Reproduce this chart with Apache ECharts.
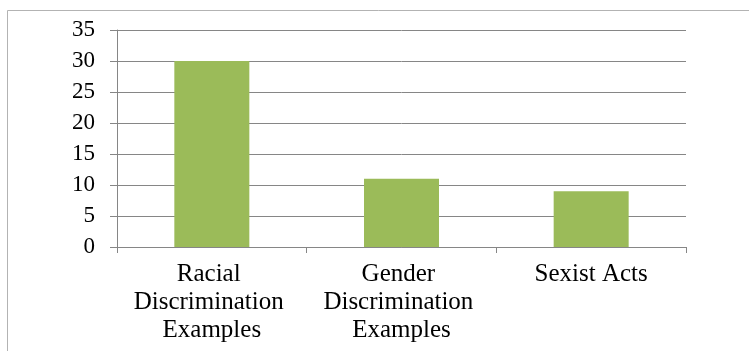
<!DOCTYPE html>
<html>
<head>
<meta charset="utf-8">
<script src="https://cdn.jsdelivr.net/npm/echarts@6/dist/echarts.min.js"></script>
<style>
  html, body { margin: 0; padding: 0; background: #fff; }
  #chart { width: 749px; height: 351px; }
</style>
</head>
<body>
<div id="chart"></div>
<script>
// Categories and counts for the bar chart
const categories = ['Racial Discrimination Examples', 'Gender Discrimination Examples', 'Sexist Acts'];
const counts = [30, 11, 9];

const chart = echarts.init(document.getElementById('chart'));
const font = '"Liberation Serif", "Times New Roman", serif';

chart.setOption({
  animation: false,
  graphic: [{
    type: 'rect',
    shape: { x: 7.5, y: 10.5, width: 800, height: 400 },
    style: { fill: 'none', stroke: '#b3b3b3', lineWidth: 1 },
    silent: true
  }],
  grid: { left: 117, right: 63, top: 30, bottom: 104 },
  xAxis: {
    type: 'category',
    data: categories,
    axisLine: { lineStyle: { color: '#868686', width: 1 } },
    axisTick: { show: true, length: 6, lineStyle: { color: '#868686' } },
    axisLabel: {
      color: '#000', fontFamily: font, fontSize: 25, lineHeight: 28,
      margin: 13, width: 180, overflow: 'break', interval: 0
    }
  },
  yAxis: {
    type: 'value',
    min: 0, max: 35, interval: 5,
    axisLine: { show: true, lineStyle: { color: '#868686', width: 1 } },
    axisTick: { show: true, length: 7, lineStyle: { color: '#868686' } },
    axisLabel: { color: '#000', fontFamily: font, fontSize: 23, margin: 22 },
    splitLine: { lineStyle: { color: '#868686', width: 1 } }
  },
  series: [{
    type: 'bar',
    data: counts,
    barWidth: 75,
    itemStyle: { color: '#9BBB59' }
  }]
});
</script>
</body>
</html>
